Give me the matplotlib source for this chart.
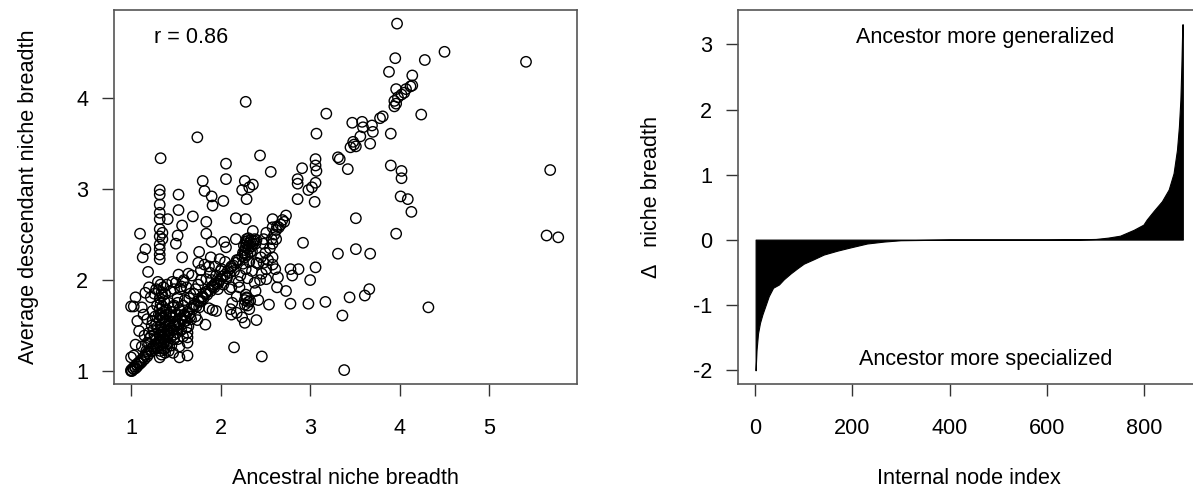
"""Ancestral vs descendant niche breadth: scatter plus sorted change per node."""
import matplotlib
matplotlib.use("Agg")
import matplotlib.pyplot as plt

plt.rcParams["font.family"] = ["Liberation Sans", "DejaVu Sans"]
plt.rcParams["axes.unicode_minus"] = False  # R draws a plain hyphen

# ---- left panel: ancestral vs average descendant niche breadth ----
ancestral = [
    # sparse upper / right points
    3.97, 4.50, 5.41, 3.95, 4.28, 3.88, 4.14, 3.96, 4.07, 4.14, 4.12, 4.02, 3.98, 3.94,
    3.94, 3.96, 4.05, 4.24, 3.18, 2.28, 3.81, 3.78, 3.69, 3.58, 3.47, 3.59, 3.70, 3.67,
    3.56, 3.48, 3.51, 3.45, 3.49, 3.90, 3.07, 1.74, 2.44, 3.31, 3.33, 3.42, 3.90, 4.02,
    4.02, 5.68, 4.01, 4.09, 4.13, 3.51, 3.96, 5.64, 5.77, 3.31, 3.51, 3.67, 3.66, 3.61,
    3.44, 3.36, 4.32, 3.38, 3.17, 2.98, 3.00, 3.06, 2.92, 2.78, 2.73, 2.78, 2.87, 2.80,
    2.64, 2.63, 2.54, 2.46, 2.15, 3.05, 3.06, 2.98, 3.02, 2.86, 2.86, 2.86, 2.91, 3.06,
    3.06, 3.07, 2.56, 2.06, 2.06, 2.27, 2.36, 2.32, 2.24, 2.29, 2.03, 1.90, 1.91, 1.80,
    1.82, 1.53,
    # column at x ~ 1.33
    1.33, 1.32, 1.32, 1.32, 1.32, 1.32, 1.32, 1.32, 1.32, 1.32, 1.32, 1.32, 1.35, 1.35,
    1.41, 1.53, 1.57, 1.69, 1.52, 1.50, 1.57, 1.10, 1.16, 1.13, 1.19, 1.84, 1.84, 1.90,
    1.76, 1.75, 2.17, 2.28, 2.36, 2.17, 2.04, 2.06, 2.58, 2.58, 2.69, 2.73, 2.71, 2.51,
    2.62, 2.57, 2.67, 2.63, 2.48,
    # middle scatter
    2.58, 2.58, 2.61, 2.48, 2.51, 2.40, 2.46, 2.44, 2.51, 2.38, 2.39, 2.42, 2.33, 2.29,
    2.27, 2.32, 2.18, 2.24, 2.27, 2.40, 2.11, 2.12, 2.13, 2.18, 2.21, 2.10, 2.10, 2.12,
    2.07, 2.01, 1.99, 1.94, 1.87, 1.89, 1.82, 1.78, 1.84, 1.93, 1.97, 1.91, 1.84, 1.80,
    1.78, 1.76, 1.72, 1.67, 1.61, 1.87, 1.91, 1.95, 1.83, 1.74, 1.64, 1.63, 1.63, 1.63,
    1.54, 1.54, 1.52, 1.63, 1.66, 1.62, 1.64, 1.59, 1.53, 1.50, 1.56, 1.48, 1.52, 1.48,
    1.54, 1.59, 1.44, 1.48, 1.54, 1.52, 1.48, 1.41,
    # left edge
    1.00, 1.03, 1.05, 1.07, 1.09, 1.05, 1.00, 1.03, 1.09, 1.12, 1.14, 1.16, 1.18, 1.20,
    1.18, 1.20, 1.22, 1.24, 1.15, 1.12,
    # diagonal 1 -> 2
    1.00, 1.00, 1.01, 1.02, 1.03, 1.04, 1.05, 1.06, 1.07, 1.08, 1.10, 1.11, 1.12, 1.14,
    1.15, 1.16, 1.18, 1.19, 1.20, 1.22, 1.23, 1.25, 1.26, 1.28, 1.29, 1.31, 1.33, 1.35,
    1.36, 1.38, 1.40, 1.42, 1.43, 1.45, 1.47, 1.49, 1.50, 1.52, 1.54, 1.56, 1.57, 1.59,
    1.61, 1.63, 1.65, 1.67, 1.69, 1.71, 1.73, 1.75, 1.77, 1.79, 1.81, 1.83, 1.85, 1.87,
    1.89, 1.91, 1.93, 1.95, 1.97, 2.00,
    # diagonal 2 -> 2.3 and cluster
    2.02, 2.05, 2.08, 2.11, 2.14, 2.17, 2.20, 2.24, 2.27,
    2.25, 2.27, 2.28, 2.29, 2.30, 2.31, 2.32, 2.33, 2.34, 2.35, 2.36, 2.37, 2.38, 2.26,
    2.28, 2.30, 2.33, 2.35, 2.39, 2.40, 2.29, 2.31, 2.27,
    # dense column near 1.33
    1.32, 1.34, 1.33, 1.35, 1.32, 1.36, 1.33, 1.35, 1.32, 1.36, 1.34, 1.33, 1.37, 1.32,
    1.35, 1.33, 1.36, 1.32, 1.35, 1.33, 1.37, 1.32, 1.35, 1.34, 1.31, 1.36, 1.33, 1.30,
    1.38, 1.39, 1.40, 1.38, 1.41, 1.42, 1.29, 1.28, 1.27, 1.30,
    # blob 1.2 - 1.8
    1.43, 1.45, 1.47, 1.50, 1.52, 1.55, 1.58, 1.60, 1.48, 1.51, 1.56, 1.58, 1.62, 1.60,
    1.45, 1.42, 1.47, 1.25, 1.22, 1.27, 1.24, 1.20, 1.17, 1.26, 1.28, 1.40, 1.44, 1.46,
    1.55, 1.58, 1.65, 1.70, 1.72, 1.75, 1.78, 1.68, 1.70, 1.66,
    # around (2.1, 2.1)
    1.95, 1.98, 2.00, 2.03, 2.05, 2.07, 1.90, 1.88, 2.15, 2.18, 2.22, 2.25, 2.28, 2.20,
    2.12, 2.30, 2.35, 2.32, 2.42, 2.45, 2.50, 2.55, 2.53, 2.48, 2.58, 2.60, 2.62, 2.65,
    2.27, 2.29, 2.31, 2.28, 2.30,
    # extra fill in the dark mass near (1.35, 1.45)
    1.37, 1.39, 1.41, 1.43, 1.38, 1.40, 1.42, 1.44, 1.36, 1.39, 1.41, 1.34, 1.37, 1.43,
    1.46, 1.29, 1.31, 1.26, 1.23, 1.21,
]
descendant = [
    4.82, 4.51, 4.40, 4.44, 4.42, 4.29, 4.25, 4.10, 4.10, 4.14, 4.13, 4.04, 4.01, 3.97,
    3.91, 3.94, 4.06, 3.82, 3.83, 3.96, 3.80, 3.78, 3.70, 3.74, 3.73, 3.68, 3.63, 3.50,
    3.58, 3.52, 3.47, 3.46, 3.49, 3.61, 3.61, 3.57, 3.37, 3.35, 3.33, 3.22, 3.26, 3.20,
    3.12, 3.21, 2.92, 2.89, 2.75, 2.68, 2.51, 2.49, 2.47, 2.29, 2.34, 2.29, 1.90, 1.83,
    1.81, 1.61, 1.70, 1.01, 1.76, 1.74, 2.00, 2.14, 2.41, 1.74, 1.88, 2.12, 2.12, 2.05,
    2.03, 1.92, 1.73, 1.16, 1.26, 2.86, 3.07, 2.99, 3.02, 2.89, 3.06, 3.11, 3.23, 3.26,
    3.33, 3.20, 3.19, 3.28, 3.11, 3.09, 3.05, 3.02, 2.99, 2.89, 2.87, 2.92, 2.82, 3.09,
    2.98, 2.94,
    3.34, 2.99, 2.94, 2.83, 2.74, 2.67, 2.56, 2.48, 2.39, 2.34, 2.28, 2.23, 2.52, 2.45,
    2.67, 2.77, 2.60, 2.70, 2.49, 2.40, 2.25, 2.51, 2.34, 2.25, 2.09, 2.64, 2.51, 2.42,
    2.31, 2.19, 2.68, 2.67, 2.54, 2.45, 2.42, 2.36, 2.67, 2.58, 2.66, 2.71, 2.64, 2.52,
    2.45, 2.45, 2.61, 2.59, 2.45,
    2.25, 2.17, 2.12, 2.19, 2.12, 2.19, 2.07, 2.00, 2.01, 1.97, 1.88, 1.78, 1.77, 1.81,
    1.73, 1.68, 1.64, 1.59, 1.53, 1.56, 1.68, 1.62, 1.75, 1.82, 1.92, 1.90, 2.08, 2.15,
    2.04, 2.12, 2.23, 2.15, 2.15, 2.25, 2.17, 2.11, 2.01, 1.95, 1.90, 1.93, 1.87, 1.82,
    1.77, 1.70, 1.60, 1.57, 1.55, 1.69, 1.67, 1.66, 1.51, 1.56, 1.49, 1.42, 1.31, 1.17,
    1.15, 1.27, 1.35, 1.37, 1.85, 1.92, 2.07, 2.00, 2.06, 1.97, 1.93, 1.90, 1.81, 1.72,
    1.68, 1.62, 1.60, 1.51, 1.51, 1.46, 1.40, 1.44,
    1.71, 1.71, 1.81, 1.55, 1.44, 1.29, 1.15, 1.17, 1.09, 1.70, 1.62, 1.86, 1.57, 1.42,
    1.31, 1.92, 1.81, 1.66, 1.39, 1.27,
    1.00, 1.01, 1.00, 1.03, 1.02, 1.05, 1.03, 1.07, 1.05, 1.09, 1.08, 1.12, 1.10, 1.15,
    1.13, 1.18, 1.16, 1.21, 1.19, 1.24, 1.22, 1.27, 1.25, 1.30, 1.28, 1.33, 1.31, 1.37,
    1.35, 1.40, 1.38, 1.44, 1.42, 1.47, 1.45, 1.51, 1.49, 1.54, 1.52, 1.58, 1.56, 1.61,
    1.60, 1.65, 1.63, 1.69, 1.68, 1.73, 1.71, 1.77, 1.76, 1.81, 1.80, 1.85, 1.84, 1.89,
    1.88, 1.93, 1.92, 1.97, 1.96, 2.01,
    2.04, 2.06, 2.10, 2.13, 2.16, 2.19, 2.22, 2.26, 2.29,
    2.30, 2.33, 2.36, 2.40, 2.43, 2.34, 2.38, 2.41, 2.44, 2.37, 2.40, 2.43, 2.45, 2.38,
    2.42, 2.28, 2.30, 2.32, 2.40, 2.44, 2.45, 2.46, 2.25,
    1.15, 1.18, 1.22, 1.25, 1.28, 1.31, 1.34, 1.37, 1.40, 1.43, 1.46, 1.50, 1.53, 1.56,
    1.59, 1.62, 1.65, 1.68, 1.71, 1.74, 1.77, 1.80, 1.83, 1.86, 1.89, 1.92, 1.95, 1.98,
    1.85, 1.62, 1.30, 1.20, 1.45, 1.75, 1.72, 1.52, 1.35, 1.25,
    1.55, 1.65, 1.70, 1.62, 1.75, 1.66, 1.72, 1.78, 1.35, 1.42, 1.45, 1.38, 1.48, 1.55,
    1.28, 1.22, 1.20, 1.45, 1.38, 1.60, 1.55, 1.30, 1.22, 1.85, 1.90, 1.95, 1.88, 1.98,
    1.90, 1.98, 1.80, 1.85, 1.90, 1.95, 2.00, 2.05, 1.72, 1.60,
    2.05, 1.98, 2.10, 1.95, 2.20, 2.02, 2.00, 2.08, 2.10, 2.22, 2.05, 2.18, 2.12, 1.98,
    1.92, 2.02, 2.10, 2.20, 2.18, 2.25, 2.30, 2.35, 2.22, 2.40, 2.40, 2.50, 2.55, 2.58,
    1.78, 1.80, 1.76, 1.84, 1.72,
    1.48, 1.55, 1.40, 1.62, 1.33, 1.26, 1.52, 1.36, 1.58, 1.68, 1.30, 1.42, 1.24, 1.50,
    1.58, 1.48, 1.62, 1.40, 1.50, 1.36,
]

# ---- right panel: sorted change in niche breadth per internal node ----
node_index = [1, 3, 6, 10, 15, 22, 28, 37, 49, 59, 73, 87, 100, 121, 141, 169, 196,
              230, 265, 299, 400, 500, 600, 650, 700, 725, 750, 778, 798, 805, 819,
              836, 850, 860, 867, 871, 874, 876, 878, 879]
delta_breadth = [-2.01, -1.69, -1.44, -1.28, -1.15, -1.00, -0.87, -0.74, -0.69, -0.61,
                 -0.52, -0.44, -0.37, -0.30, -0.23, -0.17, -0.12, -0.06, -0.03, -0.01,
                 0.0, 0.0, 0.0, 0.002, 0.01, 0.03, 0.06, 0.15, 0.23, 0.31, 0.44,
                 0.59, 0.77, 1.02, 1.38, 1.74, 2.15, 2.66, 3.31, 3.31]

BOX = "#555555"
FS = 15.6


def style_axes(ax):
    for sp in ax.spines.values():
        sp.set_color(BOX)
        sp.set_linewidth(1.2)
    ax.tick_params(direction="out", length=8.5, width=1.0, color="#333333",
                   labelsize=FS, pad=10)


fig = plt.figure(figsize=(11.93, 4.92), dpi=100)

ax1 = fig.add_axes([0.0956, 0.2195, 0.3881, 0.7602])
ax1.scatter(ancestral, descendant, s=56, facecolors="none", edgecolors="black",
            linewidths=1.0)
ax1.set_xlim(0.81, 5.98)
ax1.set_ylim(0.857, 4.97)
ax1.set_xticks([1, 2, 3, 4, 5])
ax1.set_yticks([1, 2, 3, 4])
style_axes(ax1)
ax1.tick_params(axis="x", pad=16)
ax1.set_xlabel("Ancestral niche breadth", fontsize=FS, labelpad=21)
ax1.set_ylabel("Average descendant niche breadth", fontsize=FS, labelpad=27)
ax1.text(1.257, 4.67, "r = 0.86", fontsize=FS, ha="left", va="center")

ax2 = fig.add_axes([0.6186, 0.2195, 0.3873, 0.7602])
ax2.fill_between(node_index, delta_breadth, 0, color="black", linewidth=0.8)
ax2.set_xlim(-35.2, 914.4)
ax2.set_ylim(-2.22, 3.53)
ax2.set_xticks([0, 200, 400, 600, 800])
ax2.set_yticks([-2, -1, 0, 1, 2, 3])
style_axes(ax2)
ax2.tick_params(axis="x", pad=16)
ax2.set_xlabel("Internal node index", fontsize=FS, labelpad=21)
ax2.set_ylabel("\u0394   niche breadth", fontsize=FS, labelpad=22)
ax2.text(473, 3.10, "Ancestor more generalized", fontsize=FS, ha="center", va="center")
ax2.text(473, -1.84, "Ancestor more specialized", fontsize=FS, ha="center", va="center")

fig.savefig("out.png", dpi=100)
plt.close(fig)
